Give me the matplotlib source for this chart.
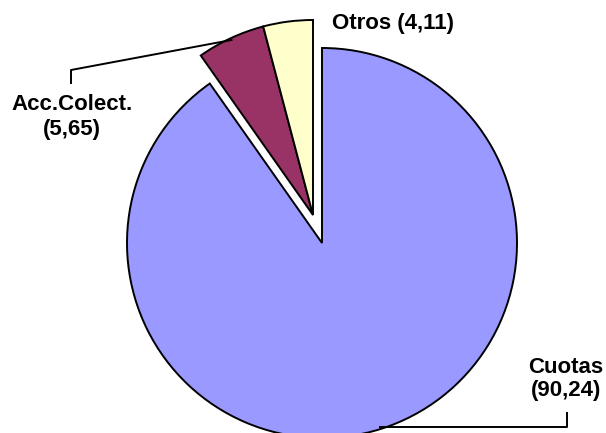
import numpy as np
import matplotlib
matplotlib.use("Agg")
import matplotlib.pyplot as plt

# =========================================================
# DATA
# =========================================================

labels = ["Cuotas", "Acc.Colect.", "Otros"]
values = [90.24, 5.65, 4.11]
value_labels = ["(90,24)", "(5,65)", "(4,11)"]
colors = ["#9999FF", "#993366", "#FFFFCC"]

plt.rcParams["font.family"] = ["Liberation Sans", "DejaVu Sans"]

# =========================================================
# FIGURE (axes in pixel units)
# =========================================================

W, H = 606, 433
fig = plt.figure(figsize=(W / 100, H / 100), dpi=100)
ax = fig.add_axes([0, 0, 1, 1])

center = (322, 190)
radius = 195
shift = (-9, 28)  # small slices pulled out together

wedges, _ = ax.pie(
    values,
    colors=colors,
    startangle=90,
    counterclock=False,
    center=center,
    radius=radius,
    wedgeprops=dict(edgecolor="black", linewidth=1.4),
)

small_center = (center[0] + shift[0], center[1] + shift[1])
for w in wedges[1:]:
    w.set_center(small_center)

ax.set_xlim(0, W)
ax.set_ylim(0, H)
ax.set_aspect("auto")
ax.axis("off")


def arc_point(w, r_scale=1.0):
    ang = np.deg2rad((w.theta1 + w.theta2) / 2)
    cx, cy = w.center
    return cx + w.r * r_scale * np.cos(ang), cy + w.r * r_scale * np.sin(ang)


font = dict(fontsize=16, fontweight="bold", color="black")

# Cuotas label + leader
ex, ey = arc_point(wedges[0], 0.99)
ax.plot([ex, 567, 567], [ey, ey, 20], color="black", lw=1.4)
ax.text(566, 54, f"{labels[0]}\n{value_labels[0]}", ha="center", va="center",
        linespacing=1.15, **font)

# Acc.Colect. label + leader
ex, ey = arc_point(wedges[1], 0.99)
ax.plot([71, 71, ex], [350, 363, ey], color="black", lw=1.4)
ax.text(72, 316, f"{labels[1]}\n{value_labels[1]}", ha="center", va="center",
        linespacing=1.2, **font)

# Otros label
ax.text(332, 410, f"{labels[2]} {value_labels[2]}", ha="left", va="center", **font)

fig.savefig("out.png", dpi=100)
